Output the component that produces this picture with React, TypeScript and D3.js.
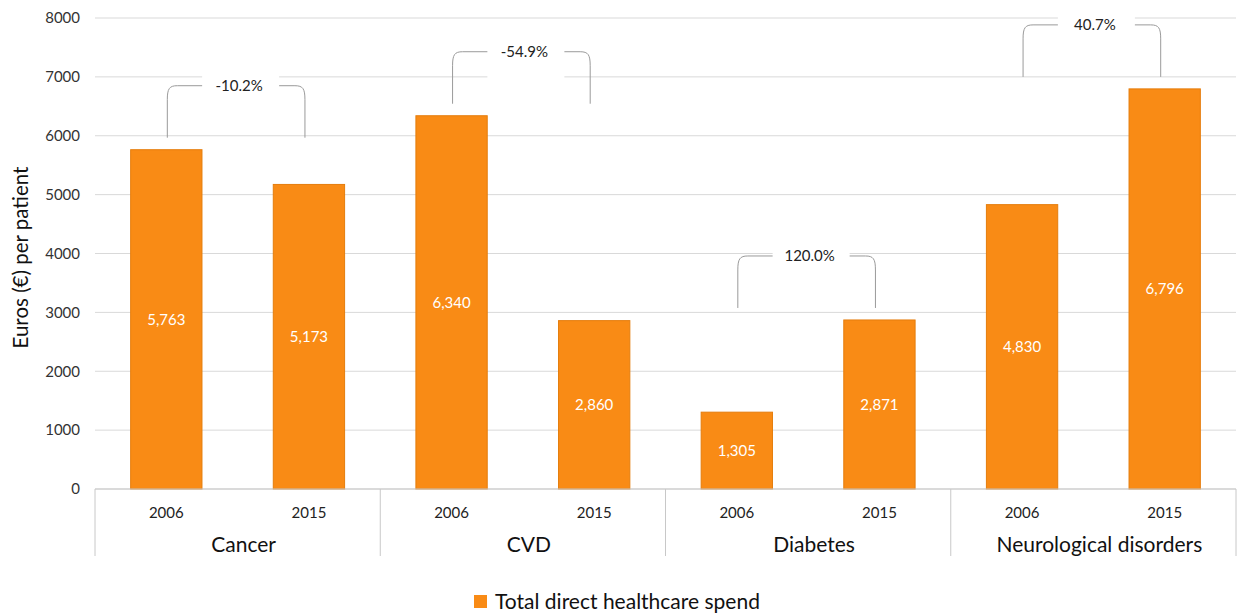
import React from "react";
import * as d3 from "d3";

const categories = ["Cancer", "CVD", "Diabetes", "Neurological disorders"];
const years = ["2006", "2015"];
const spend2006 = [5763, 6340, 1305, 4830];
const spend2015 = [5173, 2860, 2871, 6796];
const yTicks = [0, 1000, 2000, 3000, 4000, 5000, 6000, 7000, 8000];

const W = 1240;
const H = 614;
const left = 95;
const right = 1236;
const top = 18;
const bottom = 489;

const FONT = "Lato, 'Open Sans', sans-serif";
const BAR_FILL = "#F98B15";
const BAR_STROKE = "#E57D0C";

const locale = d3.formatLocale({
  decimal: ".",
  thousands: ",",
  grouping: [3],
  currency: ["€", ""],
  minus: "-",
});

export default function App() {
  const y = d3.scaleLinear().domain([0, 8000]).range([bottom, top]);
  const xGroup = d3.scaleBand<string>().domain(categories).range([left, right]).padding(0);
  const xYear = d3.scaleBand<string>().domain(years).range([0, xGroup.bandwidth()]).padding(0);
  const barW = xYear.bandwidth() * 0.5;

  const fmt = locale.format(",");
  const pct = locale.format(".1%");

  const bars = categories.flatMap((c, i) =>
    years.map((yr, j) => {
      const v = j === 0 ? spend2006[i] : spend2015[i];
      const cx = (xGroup(c) ?? 0) + (xYear(yr) ?? 0) + xYear.bandwidth() / 2;
      return { key: c + yr, cx, v };
    })
  );

  const brackets = categories.map((c, i) => {
    const a = spend2006[i];
    const b = spend2015[i];
    const g = xGroup(c) ?? 0;
    const xl = g + (xYear("2006") ?? 0) + xYear.bandwidth() / 2 + 1;
    const xr = g + (xYear("2015") ?? 0) + xYear.bandwidth() / 2 - 4;
    const peak = y(Math.max(a, b));
    const ty = peak - 64;
    const by = peak - 12;
    const mid = (xl + xr) / 2 + 3;
    const gl = mid - 37;
    const gr = mid + 40;
    const label = pct((b - a) / a);
    const leftPath = `M${xl},${by} L${xl},${ty + 14} C${xl},${ty + 3} ${xl + 2},${ty} ${xl + 10},${ty} L${gl},${ty}`;
    const rightPath = `M${xr},${by} L${xr},${ty + 14} C${xr},${ty + 3} ${xr - 2},${ty} ${xr - 10},${ty} L${gr},${ty}`;
    return { key: c, leftPath, rightPath, ty, gl, gr, mid, label };
  });

  const seps = [...categories.map((c) => xGroup(c) ?? 0), right];

  return (
    <div style={{ position: "absolute", left: 0, top: 0 }}>
      <svg width={W} height={H} style={{ display: "block", background: "#fff" }} fontFamily={FONT}>
        {/* gridlines */}
        {yTicks.map((t) => (
          <line key={t} x1={left} x2={right} y1={y(t)} y2={y(t)} stroke="#d9d9d9" strokeWidth={1} />
        ))}
        {/* y tick labels */}
        {yTicks.map((t) => (
          <text key={"l" + t} x={80} y={y(t)} dy="0.35em" textAnchor="end" fontSize={15} fill="#333">
            {t}
          </text>
        ))}
        <text
          transform={`translate(21,${(top + bottom) / 2 + 4}) rotate(-90)`}
          textAnchor="middle"
          dy="0.35em"
          fontSize={20.5}
          fill="#111"
        >
          Euros (€) per patient
        </text>

        {/* brackets with labels */}
        {brackets.map((br) => (
          <g key={br.key}>
            <rect x={br.gl} y={br.ty - 15} width={br.gr - br.gl} height={45} fill="#fff" />
            <path d={br.leftPath} fill="none" stroke="#9a9a9a" strokeWidth={1} />
            <path d={br.rightPath} fill="none" stroke="#9a9a9a" strokeWidth={1} />
            <text x={br.mid} y={br.ty} dy="0.35em" textAnchor="middle" fontSize={15} fill="#222">
              {br.label}
            </text>
          </g>
        ))}

        {/* bars */}
        {bars.map((b) => (
          <g key={b.key}>
            <rect
              x={b.cx - barW / 2}
              y={y(b.v)}
              width={barW}
              height={bottom - y(b.v)}
              fill={BAR_FILL}
              stroke={BAR_STROKE}
              strokeWidth={1}
            />
            <text
              x={b.cx}
              y={(y(b.v) + bottom) / 2}
              dy="0.35em"
              textAnchor="middle"
              fontSize={15}
              fill="#fff"
            >
              {fmt(b.v)}
            </text>
          </g>
        ))}

        {/* baseline and category separators */}
        <line x1={left} x2={right} y1={bottom} y2={bottom} stroke="#c8c8c8" />
        {seps.map((s, i) => (
          <line key={"s" + i} x1={s} x2={s} y1={bottom} y2={556} stroke="#c8c8c8" />
        ))}
        {categories.map((c) => (
          <g key={"x" + c}>
            {years.map((yr) => (
              <text
                key={yr}
                x={(xGroup(c) ?? 0) + (xYear(yr) ?? 0) + xYear.bandwidth() / 2}
                y={513}
                dy="0.35em"
                textAnchor="middle"
                fontSize={15}
                fill="#222"
              >
                {yr}
              </text>
            ))}
            <text
              x={(xGroup(c) ?? 0) + xGroup.bandwidth() / 2 + 6}
              y={545}
              dy="0.35em"
              textAnchor="middle"
              fontSize={21}
              fill="#111"
            >
              {c}
            </text>
          </g>
        ))}

        {/* legend */}
        <rect x={474} y={595} width={13} height={13} fill={BAR_FILL} />
        <text x={495} y={602} dy="0.35em" fontSize={21} fill="#111">
          Total direct healthcare spend
        </text>
      </svg>
    </div>
  );
}
